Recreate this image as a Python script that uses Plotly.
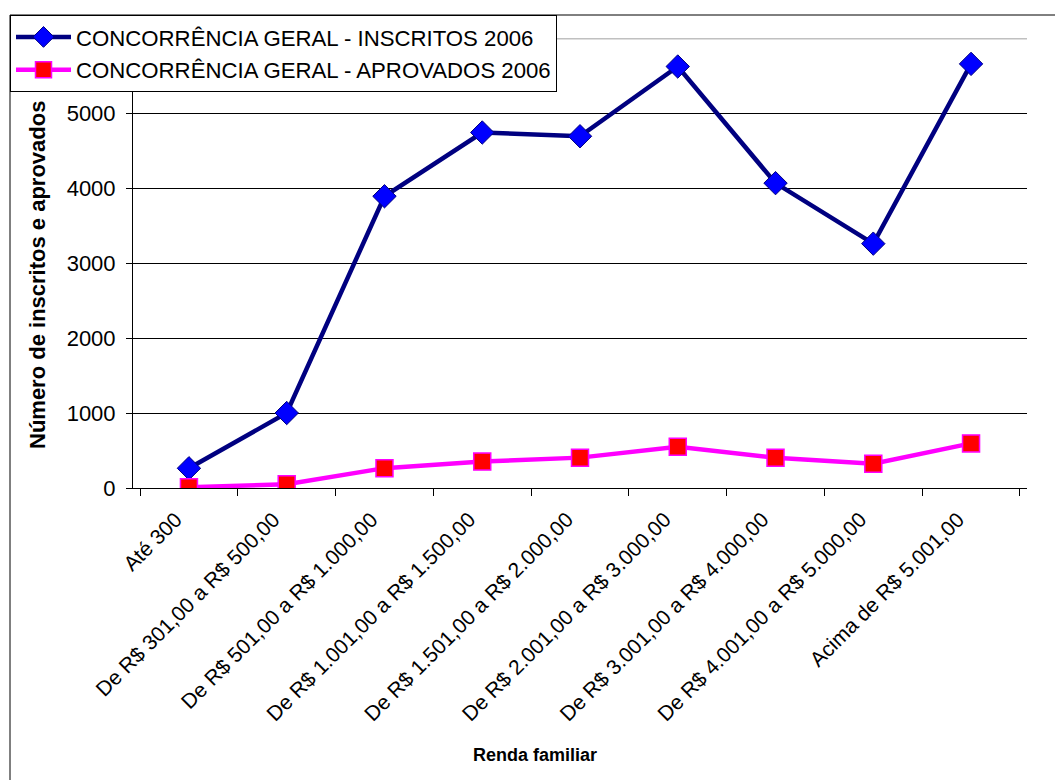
import plotly.graph_objects as go

faixas = [
    'Até 300',
    'De R$ 301,00 a R$ 500,00',
    'De R$ 501,00 a R$ 1.000,00',
    'De R$ 1.001,00 a R$ 1.500,00',
    'De R$ 1.501,00 a R$ 2.000,00',
    'De R$ 2.001,00 a R$ 3.000,00',
    'De R$ 3.001,00 a R$ 4.000,00',
    'De R$ 4.001,00 a R$ 5.000,00',
    'Acima de R$ 5.001,00',
]
inscritos = [263, 1000, 3890, 4740, 4690, 5620, 4065, 3258, 5655]
aprovados = [10, 50, 265, 352, 405, 550, 403, 323, 595]
y_ticks = [0, 1000, 2000, 3000, 4000, 5000]

font = 'Liberation Sans, Arial, sans-serif'

# plot area in pixels: x 133..1027, y 38..488
L, R, T, B = 133, 28, 38, 292
W, H = 1055, 780
pw, ph = W - L - R, H - T - B


def px_x(v):
    return (v - L) / pw


def px_y(v):
    return (H - B - v) / ph


fig = go.Figure()
fig.add_trace(go.Scatter(
    name='CONCORRÊNCIA GERAL - INSCRITOS 2006',
    x=faixas, y=inscritos,
    mode='lines+markers',
    line=dict(color='#000080', width=4.5),
    marker=dict(symbol='diamond', size=18, color='#0000FF', line=dict(color='#000080', width=1)),
    legendgroup='a',
))
fig.add_trace(go.Scatter(
    name='CONCORRÊNCIA GERAL - APROVADOS 2006',
    x=faixas, y=aprovados,
    mode='lines+markers',
    line=dict(color='#FF00FF', width=4.5),
    marker=dict(symbol='square', size=17, color='#FF0000', line=dict(color='#FF00FF', width=1.5)),
    legendgroup='b',
))

# grey line at the top of the plot area (6000)
fig.add_shape(type='line', xref='paper', yref='y', x0=0, x1=1, y0=6000, y1=6000,
              line=dict(color='#c0c0c0', width=3), layer='below')
# chart border
fig.add_shape(type='rect', xref='paper', yref='paper',
              x0=px_x(10), x1=px_x(1070), y0=px_y(800), y1=px_y(15),
              line=dict(color='black', width=1))

fig.add_annotation(text='<b>Número de inscritos e aprovados</b>', textangle=-90,
                   xref='paper', yref='paper', x=px_x(37), y=px_y(275),
                   xanchor='center', yanchor='middle',
                   showarrow=False, font=dict(family=font, size=22, color='black'))
fig.add_annotation(text='<b>Renda familiar</b>',
                   xref='paper', yref='paper', x=px_x(535), y=px_y(755),
                   xanchor='center', yanchor='middle',
                   showarrow=False, font=dict(family=font, size=18, color='black'))

fig.update_layout(
    width=W, height=H,
    margin=dict(l=L, r=R, t=T, b=B, autoexpand=False),
    paper_bgcolor='white', plot_bgcolor='white',
    font=dict(family=font, size=20, color='black'),
    showlegend=True,
    legend=dict(
        x=px_x(10), y=px_y(15), xanchor='left', yanchor='top',
        bgcolor='white', bordercolor='black', borderwidth=1,
        font=dict(family=font, size=22.2, color='black'),
        itemwidth=55, tracegroupgap=1,
    ),
)
fig.update_xaxes(showline=True, linecolor='black', linewidth=1,
                 ticks='outside', ticklen=7, tickcolor='black', tickson='boundaries',
                 tickangle=-45, showgrid=False, tickfont=dict(size=21),
                 ticklabelstandoff=10, ticklabelshift=-13)
fig.update_yaxes(range=[0, 6000], tickvals=y_ticks, showline=True, linecolor='black', linewidth=1,
                 ticks='outside', ticklen=6, tickcolor='black',
                 showgrid=True, gridcolor='black', gridwidth=1, zeroline=False,
                 tickfont=dict(size=22), ticklabelstandoff=6)

fig.write_html('out.html', config={'displayModeBar': False},
               post_script="document.body.style.margin='0';")
